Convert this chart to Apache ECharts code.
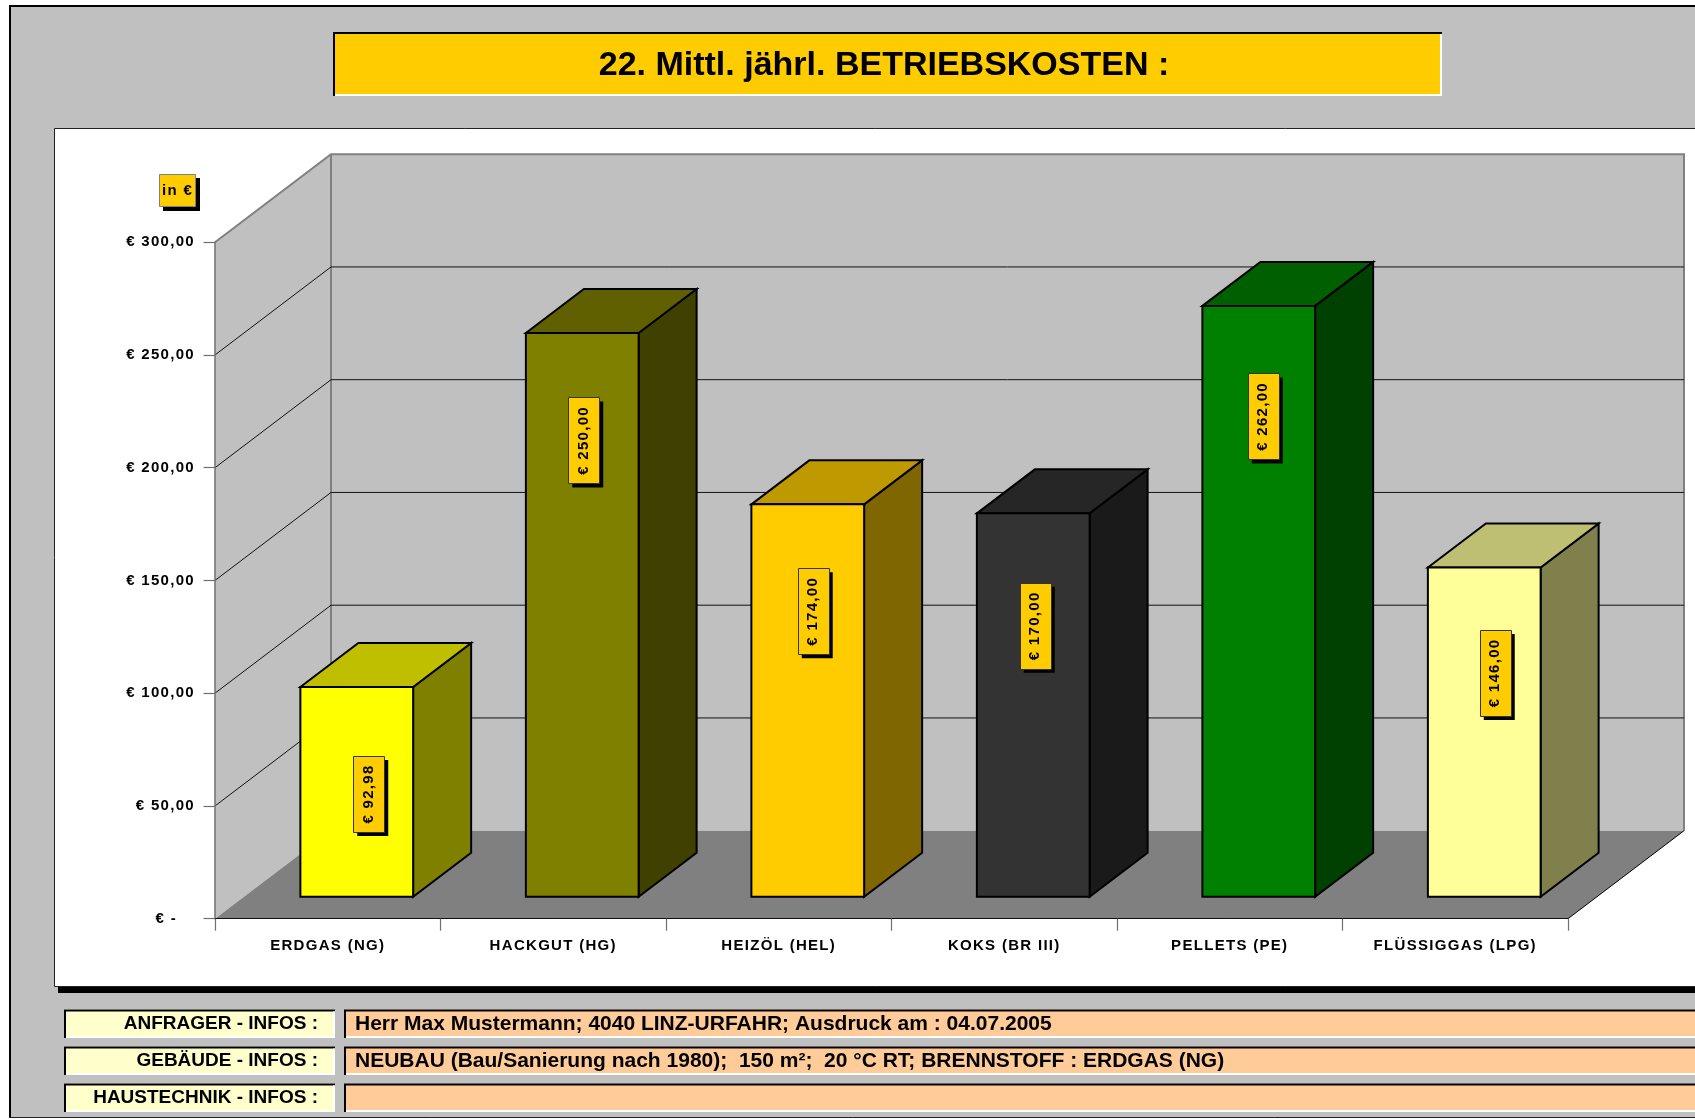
<!DOCTYPE html>
<html><head><meta charset="utf-8">
<style>html,body{margin:0;padding:0;background:#fff}#c{width:1695px;height:1119px}</style>
<script src="https://cdn.jsdelivr.net/npm/echarts@6/dist/echarts.min.js"></script>
</head><body><div id="c"></div>
<script>
const categories = ['ERDGAS (NG)','HACKGUT (HG)','HEIZÖL (HEL)','KOKS (BR III)','PELLETS (PE)','FLÜSSIGGAS (LPG)'];
const values = [92.98,250,174,170,262,146];
const valueLabels = ['€ 92,98','€ 250,00','€ 174,00','€ 170,00','€ 262,00','€ 146,00'];
const yTicks = [0,50,100,150,200,250,300];
const frontColors = ['#FFFF00','#808000','#FFCC00','#333333','#008000','#FFFF99'];
const topColors = ['#BFBF00','#606000','#BF9900','#262626','#006000','#BFBF73'];
const sideColors = ['#808000','#404000','#806600','#1A1A1A','#004000','#80804D'];
const labelNudgeX = [12,1.5,5.5,2,4.5,11];
const labelNudgeY = [-0.5,0,-0.5,5,3,-2];
const titleText = '22. Mittl. jährl. BETRIEBSKOSTEN :';
const infoLabels = ['ANFRAGER - INFOS :','GEBÄUDE - INFOS :','HAUSTECHNIK - INFOS :'];
const infoTexts = ['Herr Max Mustermann; 4040 LINZ-URFAHR; Ausdruck am : 04.07.2005','NEUBAU (Bau/Sanierung nach 1980);  150 m²;  20 °C RT; BRENNSTOFF : ERDGAS (NG)',''];

const DX = 116, DY = 88;
const FF = '"Liberation Sans", Arial, sans-serif';
const SMALL = 'bold 15px ' + FF;
const SPACING = '1.3px';

const chart = echarts.init(document.getElementById('c'));
// small chart lettering is tracked out in the original: set it on the base layer only
chart.getZr().painter.getLayer(0).ctx.letterSpacing = SPACING;

function rect(x,y,w,h,fill,z,extra){return Object.assign({type:'rect',silent:true,z:z,shape:{x,y,width:w,height:h},style:{fill}},extra||{});}
function line(pts,color,w,z){return {type:'polyline',silent:true,z:z,shape:{points:pts},style:{stroke:color,lineWidth:w,fill:null}};}
function bevel(x,y,w,h,fill,z){
  return [rect(x,y,w,h,fill,z),
    line([[x+1,y+h],[x+1,y+1],[x+w,y+1]],'#000',2,z+0.1),
    line([[x+2,y+h-1],[x+w-1,y+h-1],[x+w-1,y+2]],'#fff',2,z+0.1)];
}
const rows=[1009.5,1046.5,1083.5];
const graphics=[
  rect(9,5,1700,1113,'#C0C0C0',-20),
  line([[10,1118],[10,6],[1700,6]],'#000',2,-19),
  line([[9,1117.5],[1700,1117.5]],'#222',1,-19),
  ...bevel(333,32,1109,64,'#FFCC00',-18),
  rect(58,133,1700,860,'#000',-17),
  rect(54.5,128.5,1700,858,'#fff',-16,{style:{fill:'#fff',stroke:'#222',lineWidth:1}}),
  rect(163,178,37,33,'#000',-15),
  rect(159.5,174.5,36,32,'#FFCC00',-14,{style:{fill:'#FFCC00',stroke:'#808080',lineWidth:1}}),
  {type:'text',silent:true,z:-13,x:177.5,y:190.5,style:{text:'in €',font:'bold 15px '+FF,fill:'#000',align:'center',verticalAlign:'middle'}},
  {type:'text',silent:true,zlevel:1,z:5,x:884,y:66,style:{text:titleText,font:'bold 34px '+FF,fill:'#000',align:'center',verticalAlign:'middle'}}
];
rows.forEach((y,i)=>{
  graphics.push(...bevel(64,y,271,28.5,'#FFFFCC',-12),...bevel(344,y,1400,28.5,'#FFCC99',-12));
  graphics.push({type:'text',silent:true,zlevel:1,z:5,x:318,y:y+14.5,style:{text:infoLabels[i],font:'bold 19px '+FF,fill:'#000',align:'right',verticalAlign:'middle'}});
  if(infoTexts[i]) graphics.push({type:'text',silent:true,zlevel:1,z:5,x:355,y:y+14.5,style:{text:infoTexts[i],font:'bold 21px '+FF,fill:'#000',align:'left',verticalAlign:'middle'}});
});

function renderWalls(params,api){
  const cs=params.coordSys, l=cs.x, r=cs.x+cs.width, t=cs.y, b=cs.y+cs.height;
  const wall=(pts,fill)=>({type:'polygon',silent:true,shape:{points:pts},style:{fill}});
  const ln=(pts,stroke,w)=>({type:'polyline',silent:true,shape:{points:pts},style:{stroke,lineWidth:w,fill:null}});
  return {type:'group',children:[
    wall([[l,b],[l,t],[l+DX,t-DY],[l+DX,b-DY]],'#C0C0C0'),
    wall([[l+DX,b-DY],[l+DX,t-DY],[r+DX,t-DY],[r+DX,b-DY]],'#C0C0C0'),
    wall([[l,b],[l+DX,b-DY],[r+DX,b-DY],[r,b]],'#808080'),
    ln([[l,t],[l+DX,t-DY],[r+DX,t-DY],[r+DX,b-DY]],'#808080',2),
    ln([[l+DX,t-DY],[l+DX,b-DY]],'#808080',2),
    ln([[r,b],[r+DX,b-DY]],'#000',1)
  ]};
}
function renderGrid(params,api){
  const cs=params.coordSys, v=api.value(0);
  const y=api.coord([0,v])[1], l=cs.x, r=cs.x+cs.width;
  return {type:'polyline',silent:true,shape:{points:[[l,y],[l+DX,y-DY],[r+DX,y-DY]]},style:{stroke:'#111',lineWidth:1,fill:null}};
}
function renderBar(params,api){
  const i=api.value(0), v=api.value(1);
  const top=api.coord([i,v]), base=api.coord([i,0]);
  const w=api.size([1,0])[0]/2;
  const ox=DX/4, oy=DY/4;
  const x0=top[0]-w/2+ox, x1=x0+w, yT=top[1]-oy, yB=base[1]-oy;
  const dx=DX/2, dy=DY/2;
  const st=(fill)=>({fill,stroke:'#000',lineWidth:2,lineJoin:'miter'});
  return {type:'group',children:[
    {type:'polygon',silent:true,shape:{points:[[x1,yT],[x1+dx,yT-dy],[x1+dx,yB-dy],[x1,yB]]},style:st(sideColors[i])},
    {type:'polygon',silent:true,shape:{points:[[x0,yT],[x0+dx,yT-dy],[x1+dx,yT-dy],[x1,yT]]},style:st(topColors[i])},
    {type:'polygon',silent:true,shape:{points:[[x0,yT],[x1,yT],[x1,yB],[x0,yB]]},style:st(frontColors[i])}
  ]};
}
function renderLabel(params,api){
  const i=api.value(0), v=api.value(1);
  const top=api.coord([i,v]);
  const cx=top[0]+DX/4+labelNudgeX[i], cy=top[1]-DY/4+107.5+labelNudgeY[i];
  const txt=valueLabels[i], bw=31, bh=txt.length*10+6;
  return {type:'group',children:[
    {type:'rect',silent:true,shape:{x:cx-bw/2+4,y:cy-bh/2+4,width:bw,height:bh},style:{fill:'#000'}},
    {type:'rect',silent:true,shape:{x:Math.round(cx-bw/2)+.5,y:Math.round(cy-bh/2)+.5,width:bw,height:bh},style:{fill:'#FFCC00',stroke:'#333',lineWidth:1}},
    {type:'text',silent:true,x:cx,y:cy,rotation:Math.PI/2,style:{text:txt,font:SMALL,fill:'#000',align:'center',verticalAlign:'middle'}}
  ]};
}
const option={
  animation:false,
  backgroundColor:'#fff',
  grid:{left:215,top:242.2,width:1353,height:676.5,containLabel:false},
  xAxis:{type:'category',data:categories,boundaryGap:true,z:5,
    axisLine:{show:true,lineStyle:{color:'#111',width:1}},
    axisTick:{show:true,length:12,lineStyle:{color:'#707070',width:1.2}},
    axisLabel:{show:true,interval:0,margin:20,fontFamily:FF,fontWeight:'bold',fontSize:15,color:'#000'}},
  yAxis:{type:'value',min:0,max:300,interval:50,z:5,
    axisLine:{show:true,lineStyle:{color:'#707070',width:1.5}},
    axisTick:{show:true,length:11.5,lineStyle:{color:'#707070',width:1.2}},
    splitLine:{show:false},
    axisLabel:{show:true,margin:20,fontFamily:FF,fontWeight:'bold',fontSize:15,color:'#000',
      formatter:v=>v===0?'{zero|€ -}':'€ '+v.toFixed(2).replace('.',','),
      rich:{zero:{fontFamily:FF,fontWeight:'bold',fontSize:15,color:'#000',padding:[0,18,0,0]}}}},
  graphic:{elements:graphics},
  series:[
    {type:'custom',name:'walls',coordinateSystem:'cartesian2d',z:1,silent:true,data:[[0,0]],renderItem:renderWalls,clip:false},
    {type:'custom',name:'grid',coordinateSystem:'cartesian2d',z:2,silent:true,encode:{y:0},data:yTicks.slice(1,-1).map(v=>[v]),renderItem:renderGrid,clip:false},
    {type:'custom',name:'bars',coordinateSystem:'cartesian2d',z:3,silent:true,encode:{x:0,y:1},data:values.map((v,i)=>[i,v]),renderItem:renderBar,clip:false},
    {type:'custom',name:'labels',coordinateSystem:'cartesian2d',z:4,silent:true,encode:{x:0,y:1},data:values.map((v,i)=>[i,v]),renderItem:renderLabel,clip:false}
  ]
};
chart.setOption(option);
</script></body></html>
